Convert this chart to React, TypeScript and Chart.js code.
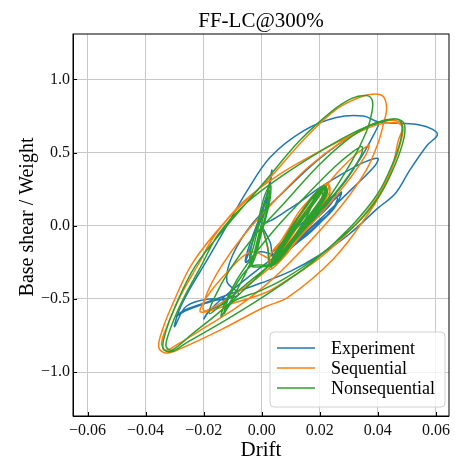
import React, { useEffect, useRef } from "react";
import { Chart, registerables } from "chart.js";

Chart.register(...registerables);

const chartTitle = "FF-LC@300%";
const xAxisLabel = "Drift";
const yAxisLabel = "Base shear / Weight";
const seriesLabels = ["Experiment", "Sequential", "Nonsequential"];
const seriesColors = ["#1f77b4", "#ff7f0e", "#2ca02c"];
const xTicks = [-0.06, -0.04, -0.02, 0, 0.02, 0.04, 0.06];
const yTicks = [-1.0, -0.5, 0, 0.5, 1.0];
const xLimits = [-0.065, 0.0645];
const yLimits = [-1.3, 1.31];

// [drift, base shear / weight]
const experiment: [number, number][] = [
  [0.0, 0.0], [0.003, -0.12], [0.004, -0.22],
  [0.009, -0.12], [0.015, -0.01], [0.021, 0.1], [0.026, 0.2], [0.0275, 0.23], [0.026, 0.16], [0.022, 0.06],
  [0.017, -0.04], [0.012, -0.12], [0.007, -0.2],
  [0.006, -0.18], [0.012, -0.07], [0.018, 0.04], [0.023, 0.14], [0.027, 0.21], [0.025, 0.12], [0.02, 0.02],
  [0.014, -0.08], [0.009, -0.16], [0.005, -0.22],
  [0.01, -0.12], [0.016, 0.0], [0.022, 0.12], [0.026, 0.19], [0.024, 0.1], [0.018, 0.0], [0.012, -0.1],
  [0.007, -0.18], [0.003, -0.2],
  [0.008, -0.1], [0.014, 0.02], [0.02, 0.12], [0.0255, 0.22], [0.0235, 0.14], [0.017, 0.02], [0.011, -0.08],
  [0.005, -0.19],
  [-0.001, -0.18], [-0.0056, -0.25], [-0.004, -0.12], [-0.001, 0.04], [0.002, 0.19], [0.001, 0.1],
  [-0.002, -0.04], [-0.004, -0.16], [-0.0055, -0.24], [-0.003, -0.1], [0.0, 0.1], [0.003, 0.3],
  [0.0035, 0.38], [0.002, 0.22], [0.0, 0.02],
  [0.01, 0.12], [0.02, 0.26], [0.03, 0.38], [0.036, 0.44], [0.04, 0.46], [0.039, 0.41], [0.032, 0.27],
  [0.022, 0.08], [0.01, -0.13], [-0.002, -0.31], [-0.012, -0.47], [-0.018, -0.58], [-0.02, -0.64],
  [-0.018, -0.58], [-0.012, -0.52], [-0.018, -0.5], [-0.026, -0.55], [-0.03, -0.69], [-0.0285, -0.58],
  [-0.025, -0.44], [-0.019, -0.24], [-0.012, 0.0], [-0.005, 0.24], [0.003, 0.47], [0.0145, 0.65],
  [0.0257, 0.74], [0.035, 0.75], [0.04, 0.71], [0.047, 0.7], [0.054, 0.69], [0.0587, 0.66], [0.0605, 0.62],
  [0.057, 0.55], [0.051, 0.38], [0.046, 0.22], [0.04, 0.12], [0.03, -0.06], [0.02, -0.2], [0.01, -0.31],
  [0.0, -0.39], [-0.01, -0.46], [-0.02, -0.53], [-0.027, -0.58], [-0.0295, -0.62], [-0.026, -0.58],
  [-0.016, -0.51], [-0.008, -0.47], [-0.012, -0.38], [-0.01, -0.2], [-0.003, 0.02], [0.008, 0.24],
  [0.02, 0.46], [0.032, 0.63], [0.04, 0.7], [0.038, 0.6], [0.034, 0.46], [0.029, 0.31], [0.025, 0.21],
  [0.02, 0.08], [0.014, -0.04], [0.008, -0.14], [0.005, -0.2],
];

const sequential: [number, number][] = [
  [0.0, 0.0], [0.002, -0.15], [0.0026, -0.29],
  [0.005, -0.16], [0.009, -0.03], [0.013, 0.1], [0.018, 0.21], [0.0225, 0.29], [0.0235, 0.24], [0.02, 0.12],
  [0.016, 0.0], [0.011, -0.13], [0.007, -0.22], [0.003, -0.3],
  [0.003, -0.2], [0.0068, -0.1], [0.0103, 0.0], [0.0138, 0.1], [0.0173, 0.2], [0.0225, 0.285],
  [0.0233, 0.2], [0.0188, 0.1], [0.0153, 0.0], [0.0118, -0.1], [0.0083, -0.2], [0.0035, -0.29],
  [0.005, -0.2], [0.01, -0.05], [0.015, 0.1], [0.02, 0.22], [0.023, 0.28], [0.022, 0.2], [0.018, 0.08],
  [0.013, -0.05], [0.008, -0.18], [0.004, -0.26],
  [0.007, -0.12], [0.012, 0.02], [0.017, 0.15], [0.021, 0.25], [0.02, 0.16], [0.015, 0.03], [0.01, -0.1],
  [0.006, -0.2], [0.003, -0.28],
  [0.008, -0.14], [0.016, 0.1], [0.025, 0.34], [0.032, 0.48], [0.036, 0.54], [0.037, 0.55], [0.036, 0.49],
  [0.031, 0.34], [0.022, 0.12], [0.012, -0.1], [0.002, -0.3], [-0.008, -0.45], [-0.016, -0.55],
  [-0.02, -0.58], [-0.019, -0.47], [-0.014, -0.28], [-0.006, -0.06], [0.004, 0.16], [0.016, 0.4],
  [0.028, 0.58], [0.037, 0.67], [0.042, 0.7], [0.047, 0.7], [0.0485, 0.67], [0.047, 0.58], [0.045, 0.4],
  [0.041, 0.22], [0.037, 0.09], [0.025, -0.22], [0.009, -0.49], [0.001, -0.555], [-0.014, -0.71],
  [-0.028, -0.84], [-0.033, -0.87], [-0.0355, -0.83], [-0.034, -0.7], [-0.031, -0.55], [-0.024, -0.26],
  [-0.012, 0.04], [0.002, 0.31], [0.015, 0.6], [0.026, 0.8], [0.034, 0.88], [0.039, 0.9], [0.042, 0.88],
  [0.043, 0.8], [0.042, 0.7], [0.04, 0.56], [0.036, 0.38], [0.028, 0.15], [0.016, -0.12], [0.004, -0.36],
  [-0.008, -0.55], [-0.02, -0.7], [-0.029, -0.81], [-0.033, -0.85], [-0.0345, -0.8], [-0.032, -0.66],
  [-0.028, -0.48], [-0.022, -0.27], [-0.016, -0.06], [-0.006, 0.17], [0.006, 0.35], [0.021, 0.52],
  [0.032, 0.63], [0.039, 0.7], [0.045, 0.72], [0.0485, 0.69], [0.048, 0.58], [0.045, 0.4], [0.04, 0.2],
  [0.032, 0.0], [0.02, -0.22], [0.008, -0.38], [0.001, -0.46], [-0.01, -0.53], [-0.021, -0.59],
  [-0.019, -0.49], [-0.012, -0.32], [-0.004, -0.18], [0.002, -0.22], [0.004, -0.26],
  [0.008, -0.12], [0.014, 0.05], [0.019, 0.18], [0.022, 0.26], [0.021, 0.2], [0.016, 0.06], [0.01, -0.1],
  [0.005, -0.22], [0.003, -0.28],
];

const nonsequential: [number, number][] = [
  [0.0, 0.0], [0.002, -0.14], [0.003, -0.27],
  [0.006, -0.15], [0.01, -0.03], [0.014, 0.1], [0.018, 0.2], [0.0215, 0.275], [0.022, 0.24], [0.019, 0.13],
  [0.015, 0.02], [0.011, -0.1], [0.007, -0.2], [0.004, -0.26],
  [0.0045, -0.2], [0.0075, -0.1], [0.0105, 0.0], [0.014, 0.1], [0.0175, 0.2], [0.0215, 0.275],
  [0.0222, 0.22], [0.0212, 0.2], [0.018, 0.1], [0.0145, 0.0], [0.011, -0.1], [0.0076, -0.2], [0.004, -0.27],
  [0.005, -0.22], [0.009, -0.1], [0.013, 0.03], [0.017, 0.15], [0.02, 0.24], [0.021, 0.2], [0.017, 0.08],
  [0.013, -0.04], [0.009, -0.15], [0.005, -0.24], [0.003, -0.28],
  [0.0048, -0.18], [0.0082, -0.08], [0.0115, 0.02], [0.015, 0.12], [0.0185, 0.21], [0.022, 0.265],
  [0.0215, 0.18], [0.0178, 0.08], [0.0142, -0.02], [0.0105, -0.12], [0.007, -0.21], [0.0035, -0.27],
  [0.006, -0.18], [0.011, -0.04], [0.016, 0.1], [0.02, 0.21], [0.022, 0.27], [0.0225, 0.22], [0.019, 0.1],
  [0.014, -0.02], [0.01, -0.12], [0.006, -0.22], [0.0035, -0.26],
  [0.007, -0.14], [0.012, 0.0], [0.016, 0.12], [0.018, 0.18], [0.016, 0.08], [0.012, -0.05], [0.008, -0.16],
  [0.005, -0.22],
  [0.008, -0.1], [0.013, 0.04], [0.018, 0.17], [0.0215, 0.26], [0.021, 0.18], [0.016, 0.04], [0.011, -0.09],
  [0.006, -0.2], [0.004, -0.26],
  [0.0, -0.28], [-0.004, -0.27], [-0.0025, -0.12], [-0.0005, 0.04], [0.0015, 0.18], [0.003, 0.28],
  [0.003, 0.2], [0.0015, 0.06], [-0.0005, -0.08], [-0.002, -0.2], [-0.0035, -0.26], [-0.0041, -0.2],
  [-0.0016, 0.0], [0.0009, 0.2], [0.003, 0.28], [0.0029, 0.2], [0.0004, 0.0], [-0.0021, -0.2],
  [-0.0035, -0.27], [-0.002, -0.14], [0.0, 0.02], [0.002, 0.16], [0.0028, 0.24], [0.0022, 0.12],
  [0.0, -0.02], [-0.002, -0.16], [-0.0038, -0.25],
  [-0.008, -0.42], [-0.012, -0.56], [-0.014, -0.62], [-0.0125, -0.52], [-0.007, -0.32], [0.003, -0.06],
  [0.015, 0.2], [0.025, 0.4], [0.031, 0.5], [0.0345, 0.54], [0.034, 0.47], [0.028, 0.29], [0.018, 0.05],
  [0.006, -0.21], [-0.006, -0.41], [-0.014, -0.54], [-0.018, -0.6], [-0.0165, -0.5], [-0.011, -0.3],
  [-0.003, -0.08], [0.008, 0.16], [0.02, 0.42], [0.031, 0.61], [0.039, 0.7], [0.045, 0.73], [0.048, 0.71],
  [0.048, 0.6], [0.045, 0.42], [0.04, 0.22], [0.031, 0.0], [0.018, -0.24], [0.004, -0.44], [-0.012, -0.64],
  [-0.026, -0.8], [-0.031, -0.86], [-0.034, -0.84], [-0.033, -0.72], [-0.03, -0.56], [-0.023, -0.28],
  [-0.012, 0.0], [0.001, 0.3], [0.013, 0.58], [0.024, 0.78], [0.031, 0.87], [0.036, 0.89], [0.038, 0.86],
  [0.038, 0.78], [0.036, 0.64], [0.031, 0.44], [0.022, 0.16], [0.01, -0.12], [-0.002, -0.36],
  [-0.014, -0.58], [-0.024, -0.74], [-0.031, -0.85], [-0.033, -0.82], [-0.031, -0.68], [-0.027, -0.5],
  [-0.021, -0.28], [-0.015, -0.06], [-0.005, 0.16], [0.007, 0.34], [0.022, 0.53], [0.033, 0.65],
  [0.04, 0.7], [0.046, 0.73], [0.049, 0.7], [0.049, 0.6], [0.046, 0.42], [0.041, 0.22], [0.033, 0.02],
  [0.02, -0.2], [0.008, -0.36], [0.0, -0.44], [-0.01, -0.52], [-0.013, -0.6], [-0.011, -0.48],
  [-0.004, -0.28], [0.003, -0.26],
  [0.008, -0.12], [0.014, 0.04], [0.019, 0.18], [0.022, 0.27], [0.021, 0.2], [0.016, 0.06], [0.011, -0.08],
  [0.006, -0.2], [0.003, -0.27],
];

const seriesData = [experiment, sequential, nonsequential];

const SERIF = "'Liberation Serif', 'Times New Roman', serif";

function fmt(v: number, d: number): string {
  const s = Math.abs(v) < 1e-12 ? (0).toFixed(d) : v.toFixed(d);
  return s.replace("-", "\u2212");
}

const decorPlugin = {
  id: "decor",
  afterDraw(chart: any) {
    const { ctx, chartArea } = chart;
    const { left, right, top, bottom } = chartArea;
    const xs = chart.scales.x;
    const ys = chart.scales.y;
    ctx.save();
    ctx.strokeStyle = "#000";
    ctx.lineWidth = 1;
    ctx.strokeRect(left, top, right - left, bottom - top);
    ctx.beginPath();
    xTicks.forEach((t) => {
      const px = Math.round(xs.getPixelForValue(t)) + 0.5;
      ctx.moveTo(px, bottom);
      ctx.lineTo(px, bottom - 4);
    });
    yTicks.forEach((t) => {
      const py = Math.round(ys.getPixelForValue(t)) + 0.5;
      ctx.moveTo(left, py);
      ctx.lineTo(left + 4, py);
    });
    ctx.stroke();

    ctx.fillStyle = "#000";
    ctx.textAlign = "center";
    ctx.textBaseline = "alphabetic";
    ctx.font = `21px ${SERIF}`;
    ctx.fillText(chartTitle, (left + right) / 2, 27);
    ctx.fillText(xAxisLabel, (left + right) / 2, 456);
    ctx.save();
    ctx.translate(33, 217);
    ctx.rotate(-Math.PI / 2);
    ctx.font = `20px ${SERIF}`;
    ctx.fillText(yAxisLabel, 0, 0);
    ctx.restore();

    const bx = 270, by = 332, bw = 175, bh = 75, r = 4;
    ctx.beginPath();
    ctx.moveTo(bx + r, by);
    ctx.lineTo(bx + bw - r, by);
    ctx.quadraticCurveTo(bx + bw, by, bx + bw, by + r);
    ctx.lineTo(bx + bw, by + bh - r);
    ctx.quadraticCurveTo(bx + bw, by + bh, bx + bw - r, by + bh);
    ctx.lineTo(bx + r, by + bh);
    ctx.quadraticCurveTo(bx, by + bh, bx, by + bh - r);
    ctx.lineTo(bx, by + r);
    ctx.quadraticCurveTo(bx, by, bx + r, by);
    ctx.closePath();
    ctx.fillStyle = "rgba(255,255,255,0.8)";
    ctx.fill();
    ctx.strokeStyle = "#d0d0d0";
    ctx.lineWidth = 1;
    ctx.stroke();
    ctx.font = `18px ${SERIF}`;
    ctx.textAlign = "left";
    ctx.textBaseline = "middle";
    seriesLabels.forEach((lab, i) => {
      const cy = 348 + i * 20;
      ctx.strokeStyle = seriesColors[i];
      ctx.lineWidth = 1.5;
      ctx.beginPath();
      ctx.moveTo(277, cy);
      ctx.lineTo(315, cy);
      ctx.stroke();
      ctx.fillStyle = "#000";
      ctx.fillText(lab, 331, cy + 1);
    });
    ctx.restore();
  },
};

export default function App() {
  const ref = useRef<HTMLCanvasElement | null>(null);
  useEffect(() => {
    if (!ref.current) return;
    const datasets = seriesData.map((d, i) => ({
      label: seriesLabels[i],
      data: d.map(([x, y]) => ({ x, y })),
      showLine: true,
      borderColor: seriesColors[i],
      backgroundColor: seriesColors[i],
      borderWidth: 1.5,
      pointRadius: 0,
      tension: 0.35,
      fill: false,
      order: 2 - i,
    }));
    const chart = new Chart(ref.current, {
      type: "scatter",
      data: { datasets },
      plugins: [decorPlugin],
      options: {
        responsive: false,
        animation: false,
        layout: { padding: { top: 34, right: 2, left: 0, bottom: 0 } },
        plugins: {
          legend: { display: false },
          title: { display: false },
          tooltip: { enabled: false },
        },
        scales: {
          x: {
            type: "linear",
            min: xLimits[0],
            max: xLimits[1],
            afterBuildTicks: (s: any) => {
              s.ticks = xTicks.map((v) => ({ value: v }));
            },
            afterFit: (s: any) => {
              s.height = 48;
            },
            grid: { color: "#c8c8c8", lineWidth: 1, drawTicks: false },
            border: { color: "#000", width: 1 },
            ticks: {
              padding: 5,
              color: "#111",
              font: { family: SERIF, size: 16 },
              callback: (v: any) => fmt(Number(v), 2),
            },
          },
          y: {
            type: "linear",
            min: yLimits[0],
            max: yLimits[1],
            afterBuildTicks: (s: any) => {
              s.ticks = yTicks.map((v) => ({ value: v }));
            },
            afterFit: (s: any) => {
              s.width = 73;
            },
            grid: { color: "#c8c8c8", lineWidth: 1, drawTicks: false },
            border: { color: "#000", width: 1 },
            ticks: {
              padding: 3,
              color: "#111",
              font: { family: SERIF, size: 16 },
              callback: (v: any) => fmt(Number(v), 1),
            },
          },
        },
      },
    });
    return () => chart.destroy();
  }, []);
  return (
    <div style={{ position: "absolute", left: 0, top: 0, width: 455, height: 464, background: "#fff" }}>
      <canvas ref={ref} width={455} height={464} style={{ width: 455, height: 464 }} />
    </div>
  );
}
